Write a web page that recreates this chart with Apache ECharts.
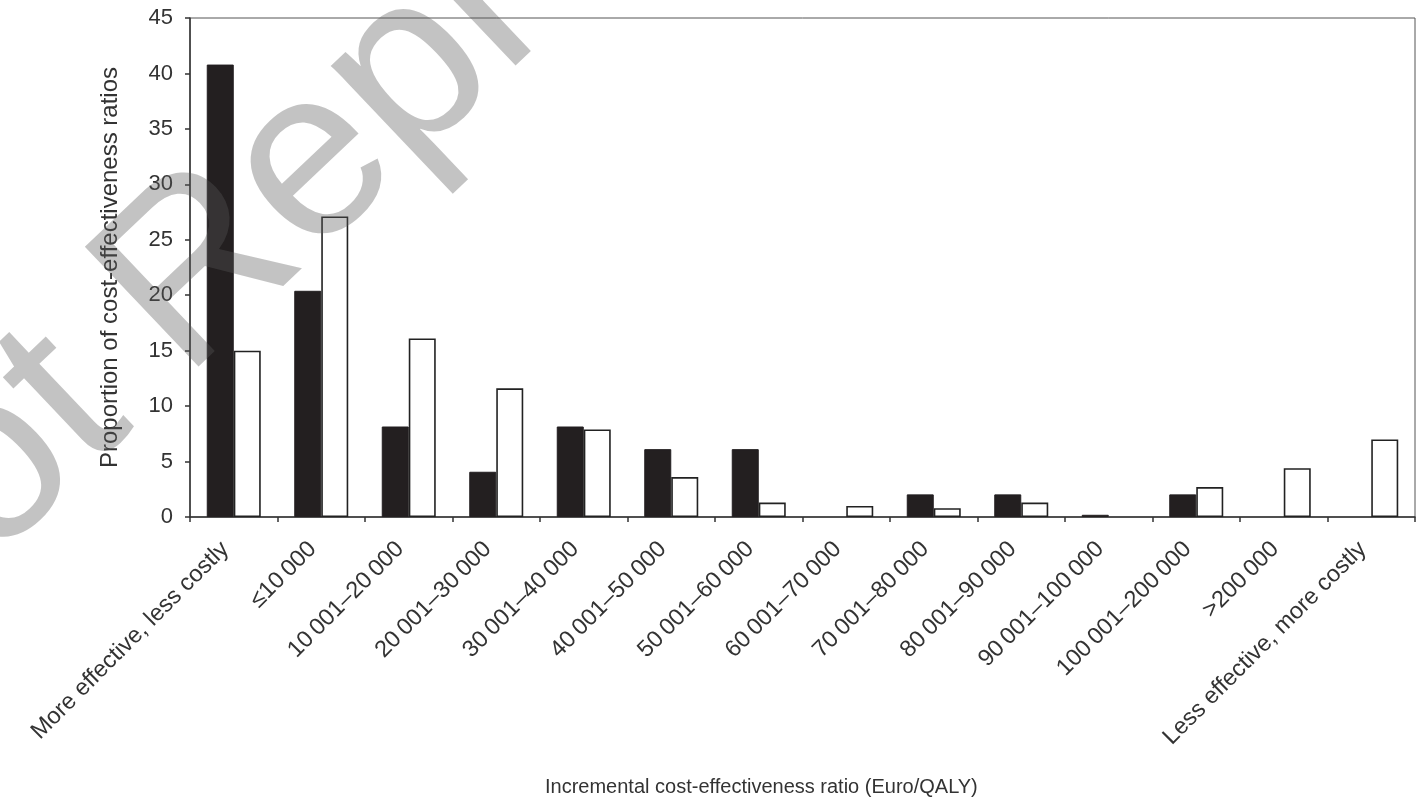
<!DOCTYPE html>
<html>
<head>
<meta charset="utf-8">
<script src="https://cdn.jsdelivr.net/npm/echarts@6/dist/echarts.min.js"></script>
<style>
html,body{margin:0;padding:0;background:#fff;}
#chart{width:1424px;height:798px;}
</style>
</head>
<body>
<div id="chart"></div>
<script>
const categories = [
  "More effective, less costly", "\u226410\u2009000", "10\u2009001\u201320\u2009000", "20\u2009001\u201330\u2009000",
  "30\u2009001\u201340\u2009000", "40\u2009001\u201350\u2009000", "50\u2009001\u201360\u2009000", "60\u2009001\u201370\u2009000",
  "70\u2009001\u201380\u2009000", "80\u2009001\u201390\u2009000", "90\u2009001\u2013100\u2009000", "100\u2009001\u2013200\u2009000",
  ">200\u2009000", "Less effective, more costly"
];
const seriesBlack = [40.8, 20.4, 8.16, 4.08, 8.16, 6.12, 6.12, 0, 2.04, 2.04, 0.2, 2.04, 0, 0];
const seriesWhite = [15.0, 27.1, 16.1, 11.6, 7.9, 3.6, 1.3, 1.0, 0.8, 1.3, 0, 2.7, 4.4, 7.0];
const yTicks = { min: 0, max: 45, interval: 5 };
const yName = "Proportion of cost-effectiveness ratios";
const xName = "Incremental cost-effectiveness ratio (Euro/QALY)";
const watermark = "Not Reproducible";

const FONT = "'Liberation Sans', Arial, sans-serif";
const chart = echarts.init(document.getElementById('chart'), null, {renderer: 'canvas'});
const nz = arr => arr.map(v => v === 0 ? '-' : v);

chart.setOption({
  animation: false,
  backgroundColor: '#ffffff',
  grid: { left: 190, right: 9, top: 18, bottom: 281, show: true, borderColor: '#555', borderWidth: 1 },
  xAxis: {
    type: 'category',
    data: categories,
    axisLine: { lineStyle: { color: '#333', width: 1.5 } },
    axisTick: { show: true, length: 5, lineStyle: { color: '#333', width: 1.5 } },
    axisLabel: { rotate: 45, fontFamily: FONT, fontSize: 23.5, color: '#333', margin: 20, interval: 0, padding: [0, 12, 0, 0] }
  },
  yAxis: {
    type: 'value',
    min: yTicks.min, max: yTicks.max, interval: yTicks.interval,
    name: yName, nameLocation: 'middle', nameGap: 68,
    nameTextStyle: { fontFamily: FONT, fontSize: 24, color: '#333' },
    splitLine: { show: false },
    axisLine: { show: true, lineStyle: { color: '#333', width: 1.5 } },
    axisTick: { show: true, length: 5, lineStyle: { color: '#333', width: 1.5 } },
    axisLabel: { fontFamily: FONT, fontSize: 22, color: '#333', margin: 17 }
  },
  series: [
    { type: 'bar', data: nz(seriesBlack), barWidth: 27, barGap: '0%',
      itemStyle: { color: '#231f20', borderColor: '#231f20', borderWidth: 1 } },
    { type: 'bar', data: nz(seriesWhite), barWidth: 27, barGap: '0%',
      itemStyle: { color: '#ffffff', borderColor: '#222', borderWidth: 1.6 } }
  ],
  graphic: [
    { type: 'text', left: 545, top: 777,
      style: { text: xName, fontFamily: FONT, fontSize: 20, fill: '#333' } },
    { type: 'text', x: -98, y: 722, rotation: 43.5 * Math.PI / 180, z: 100,
      style: { text: watermark, fontFamily: FONT, fontSize: 240, fill: 'rgba(88,88,88,0.36)', textVerticalAlign: 'bottom' } }
  ]
});
</script>
</body>
</html>
